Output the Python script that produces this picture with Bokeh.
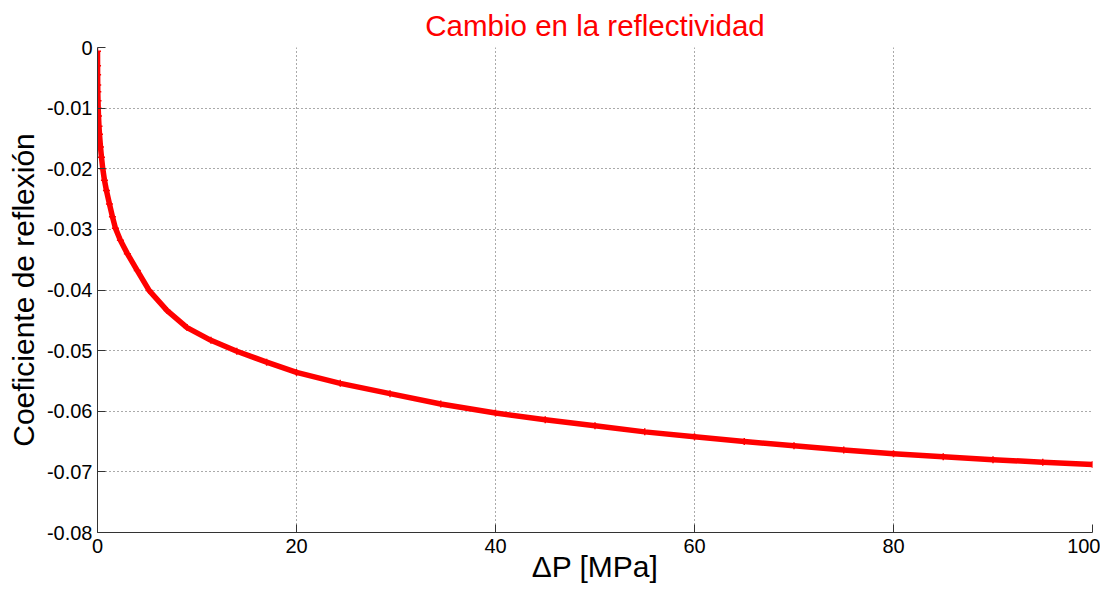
from bokeh.plotting import figure
from bokeh.embed import file_html
from bokeh.resources import INLINE
from bokeh.models import FixedTicker, CustomJSTickFormatter

# Data
delta_p = [0, 0.005, 0.01, 0.02, 0.03, 0.05, 0.07, 0.1, 0.15, 0.2, 0.3, 0.4, 0.53, 0.7,
           0.9, 1.2, 1.5, 1.8, 2.3, 3.0, 4.0, 5.2, 7.0, 9.0, 11.4, 14.0, 17.0, 20.0,
           24.4, 29.4, 34.5, 40, 45, 50, 55, 60, 65, 70, 75, 80, 85, 90, 95, 100]
coef_reflexion = [-0.0006, -0.0030, -0.0045, -0.0062, -0.0073, -0.0088, -0.0100, -0.0113,
                  -0.0130, -0.0143, -0.0164, -0.0181, -0.0200, -0.0219, -0.0236, -0.0258,
                  -0.0279, -0.0298, -0.0318, -0.0340, -0.0368, -0.0401, -0.0434, -0.0462,
                  -0.0483, -0.0501, -0.0519, -0.0536, -0.0554, -0.0571, -0.0588, -0.0603,
                  -0.0614, -0.0624, -0.0634, -0.0642, -0.0650, -0.0657, -0.0664, -0.0670,
                  -0.0675, -0.0680, -0.0684, -0.0688]

x_ticks = [0, 20, 40, 60, 80, 100]
y_ticks = [0, -0.01, -0.02, -0.03, -0.04, -0.05, -0.06, -0.07, -0.08]

title_text = "Cambio en la reflectividad"
x_label = "ΔP [MPa]"
y_label = "Coeficiente de reflexión"

FONT = "Liberation Sans"

p = figure(width=1100, height=588, x_range=(0, 100), y_range=(-0.08, 0),
           output_backend="svg", toolbar_location=None,
           min_border_left=97, min_border_right=8, min_border_top=47, min_border_bottom=56)

p.title.text = title_text
p.title.align = "center"
p.title.text_color = "#ff0000"
p.title.text_font = FONT
p.title.text_font_size = "29.5px"
p.title.text_font_style = "normal"
p.title.standoff = 11

p.outline_line_color = None
p.background_fill_color = "white"
p.border_fill_color = "white"

for ax in (p.xaxis[0], p.yaxis[0]):
    ax.axis_line_color = "#333333"
    ax.axis_line_width = 1
    ax.major_tick_line_color = "#333333"
    ax.major_tick_in = 8
    ax.major_tick_out = 0
    ax.minor_tick_line_color = None
    ax.major_label_text_font = FONT
    ax.major_label_text_font_size = "20px"
    ax.major_label_text_color = "#000000"
    ax.axis_label_text_font = FONT
    ax.axis_label_text_font_size = "30px"
    ax.axis_label_text_font_style = "normal"
    ax.axis_label_text_color = "#000000"

p.xaxis[0].ticker = FixedTicker(ticks=x_ticks)
p.yaxis[0].ticker = FixedTicker(ticks=y_ticks)
p.yaxis[0].formatter = CustomJSTickFormatter(code="return Number(tick.toFixed(2)).toString();")
p.xaxis[0].formatter = CustomJSTickFormatter(code="return Number(tick.toFixed(0)).toString();")
p.xaxis[0].axis_label = x_label
p.yaxis[0].axis_label = y_label
p.xaxis[0].major_label_standoff = 6
p.yaxis[0].major_label_standoff = 5
p.xaxis[0].axis_label_standoff = -6
p.yaxis[0].axis_label_standoff = 4

p.xgrid.ticker = FixedTicker(ticks=x_ticks)
p.ygrid.ticker = FixedTicker(ticks=y_ticks)
for g in (p.xgrid[0], p.ygrid[0]):
    g.grid_line_color = "#555555"
    g.grid_line_dash = "1 3"
    g.grid_line_width = 1

p.line(delta_p, coef_reflexion, line_color="#ff0000", line_width=5.5, line_join="round")
p.scatter(delta_p, coef_reflexion, marker="cross", size=7, line_color="#ff0000", line_width=1.5)

open("out.html", "w").write(file_html(p, INLINE))
